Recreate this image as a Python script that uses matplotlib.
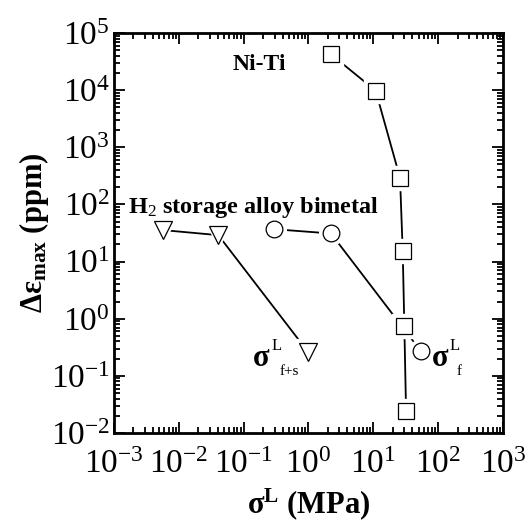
import matplotlib
matplotlib.use("Agg")
import matplotlib.pyplot as plt
from matplotlib.ticker import LogLocator, NullFormatter

# data
niti_x = [2.23, 10.9, 25.9, 28.5, 30.2, 32.1]
niti_y = [42400, 9770, 292, 15.4, 0.74, 0.0243]
film_x = [0.294, 2.23, 54]
film_y = [36.9, 31, 0.273]
fs_x = [0.00577, 0.0407, 1.0]
fs_y = [35.5, 29, 0.257]

plt.rcParams['font.family'] = ['Liberation Serif', 'DejaVu Serif']
plt.rcParams['mathtext.fontset'] = 'custom'
plt.rcParams['mathtext.rm'] = 'Liberation Serif'
plt.rcParams['mathtext.it'] = 'Liberation Serif'
plt.rcParams['mathtext.bf'] = 'Liberation Serif:bold'

fig = plt.figure(figsize=(5.26, 5.24), dpi=100)
ax = fig.add_axes([0.2167, 0.1737, 0.7393, 0.7633])


def series(x, y, marker, ms):
    ax.plot(x, y, '-', color='k', lw=1.3, zorder=1)
    # white halo so the line stops short of each marker
    ax.plot(x, y, linestyle='none', marker=marker, ms=ms + 5, mfc='white',
            mec='white', zorder=2)
    ax.plot(x, y, linestyle='none', marker=marker, ms=ms, mfc='white',
            mec='k', mew=0.9, zorder=3)


series(niti_x, niti_y, 's', 12)
series(film_x, film_y, 'o', 12)
series(fs_x, fs_y, 'v', 13)

ax.set_xscale('log')
ax.set_yscale('log')
ax.set_xlim(1e-3, 1e3)
ax.set_ylim(1e-2, 1e5)
ax.xaxis.set_major_locator(LogLocator(base=10, numticks=10))
ax.yaxis.set_major_locator(LogLocator(base=10, numticks=10))
ax.xaxis.set_minor_locator(LogLocator(base=10, subs=range(2, 10), numticks=20))
ax.yaxis.set_minor_locator(LogLocator(base=10, subs=range(2, 10), numticks=20))
ax.xaxis.set_minor_formatter(NullFormatter())
ax.yaxis.set_minor_formatter(NullFormatter())
ax.tick_params(which='both', direction='in', top=True, right=True,
               labelsize=24, width=1.3)
ax.tick_params(which='major', length=8)
ax.tick_params(which='minor', length=4)
ax.tick_params(axis='y', which='major', pad=3)
ax.tick_params(axis='x', which='major', pad=12)
for s in ax.spines.values():
    s.set_linewidth(2)

ax.set_xlabel(r'$\mathbf{\sigma^{L}}$ (MPa)', fontsize=22, fontweight='bold',
              labelpad=4)
ax.set_ylabel(r'$\mathbf{\Delta\varepsilon_{max}}$ (ppm)', fontsize=22,
              fontweight='bold', labelpad=0)

ax.text(0.173, 2.8e4, 'Ni-Ti', fontsize=17, fontweight='bold',
        ha='center', va='center')
ax.text(0.00164, 89.7, r'H$_2$ storage alloy bimetal', fontsize=17.5,
        fontweight='bold', ha='left', va='center')

# sigma labels built from pieces, like the original
ax.text(0.186, 0.203, r'$\mathbf{\sigma}$', fontsize=22, ha='center', va='center')
ax.text(0.27, 0.33, 'L', fontsize=12, ha='left', va='center')
ax.text(0.365, 0.12, 'f+s', fontsize=11, ha='left', va='center')
ax.text(107, 0.203, r'$\mathbf{\sigma}$', fontsize=22, ha='center', va='center')
ax.text(150, 0.33, 'L', fontsize=12, ha='left', va='center')
ax.text(196, 0.12, 'f', fontsize=11, ha='left', va='center')

fig.savefig('out.png', dpi=100)
